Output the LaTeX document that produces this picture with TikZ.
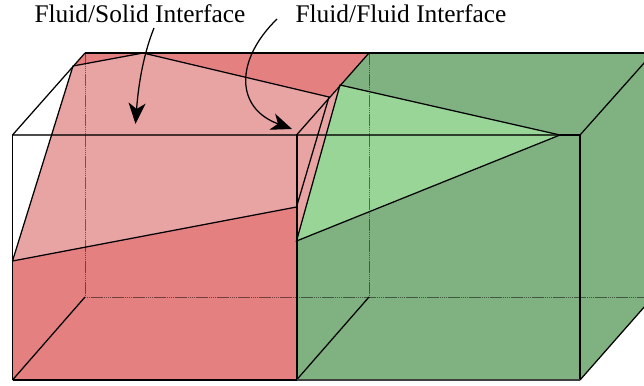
\documentclass[tikz,border=0pt]{standalone}
\usepackage{fontspec}
\setmainfont{Liberation Serif}
\usetikzlibrary{arrows.meta}
\definecolor{redD}{HTML}{E58080}
\definecolor{redL}{HTML}{E8A3A3}
\definecolor{greenD}{HTML}{80B180}
\definecolor{greenL}{HTML}{98D596}
\tikzset{
 edge/.style={black,line width=1.25pt},
 thick edge/.style={black,line width=2pt},
 iface/.style={black,line width=1.25pt},
 hidden/.style={black,line width=0.8pt,dash pattern=on 1.6pt off 0.5pt,opacity=.5},
 through/.style={black,line width=1.2pt,opacity=.7},
 label/.style={font=\fontsize{25.4}{28}\selectfont,inner sep=0pt,anchor=base},
 callout/.style={black,line width=1.25pt,-{Stealth[length=21pt,width=17pt,inset=6pt]}},
}
\begin{document}
\begin{tikzpicture}[x=1pt,y=-1pt]
\useasboundingbox (0,0) rectangle (644,385);
\begin{scope}
\clip (0,0) rectangle (644,385);
% corners
\coordinate (a) at (12.5,135); \coordinate (b) at (296.5,135); \coordinate (c) at (580,135);
\coordinate (d) at (12.5,380); \coordinate (e) at (296.5,380); \coordinate (f) at (580,380);
\coordinate (ab) at (85,53); \coordinate (bb) at (369,53); \coordinate (cb) at (653,53);
\coordinate (db) at (85,297); \coordinate (eb) at (369,297); \coordinate (fb) at (653,297);
% interface points
\coordinate (p1) at (12.5,261); \coordinate (p2) at (73,66); \coordinate (p3) at (143,53);
\coordinate (p4) at (329,97); \coordinate (p5) at (296.5,207);
\coordinate (q1) at (340,85); \coordinate (q2) at (560,135); \coordinate (q3) at (296.5,241);
% fills
\fill[redD] (p1) -- (p5) -- (e) -- (d) -- cycle;
\fill[redD] (p2) -- (ab) -- (bb) -- (q1) -- (p4) -- (p3) -- cycle;
\fill[greenD] (b) -- (bb) -- (cb) -- (fb) -- (f) -- (e) -- cycle;
\fill[redL] (p1) -- (p2) -- (p3) -- (p4) -- (p5) -- cycle;
\fill[redL] (p4) -- (q1) -- (q3) -- (p5) -- cycle;
\fill[greenL] (q1) -- (q2) -- (q3) -- cycle;
% hidden edges
\draw[hidden] (ab) -- (db) -- (eb) -- (fb);
\draw[hidden] (bb) -- (eb);
% edges seen through interfaces
\draw[through] (a) -- (b) -- (q2);
\draw[edge] (q2) -- (c);
% cube edges
\draw[edge] (ab) -- (cb);
\draw[edge] (a) -- (ab);
\draw[edge] (b) -- (bb);
\draw[edge] (c) -- (cb);
\draw[edge] (d) -- (db);
\draw[edge] (e) -- (eb);
\draw[edge] (f) -- (fb);
\draw[edge] (a) -- (d);
\draw[edge] (c) -- (f);
\draw[thick edge] (b) -- (e);
\draw[thick edge] (d) -- (e);
\draw[edge,black!75,line width=1.5pt] (e) -- (f);
% interfaces
\draw[iface] (p1) -- (p2) -- (p3) -- (p4) -- (p5) -- (p1);
\draw[iface] (q1) -- (q2) -- (q3) -- cycle;
\end{scope}
% labels and callouts
\node[label] (fs) at (140,23) {Fluid/Solid Interface};
\node[label] (ff) at (401,23) {Fluid/Fluid Interface};
\coordinate (fsStart) at (154,28); \coordinate (fsEnd) at (135.5,124);
\coordinate (ffStart) at (277,19); \coordinate (ffEnd) at (292,129);
\draw[callout] (fsStart) .. controls (142,58) and (138,90) .. (fsEnd);
\draw[callout] (ffStart) .. controls (235,60) and (235,108) .. (ffEnd);
\end{tikzpicture}
\end{document}
